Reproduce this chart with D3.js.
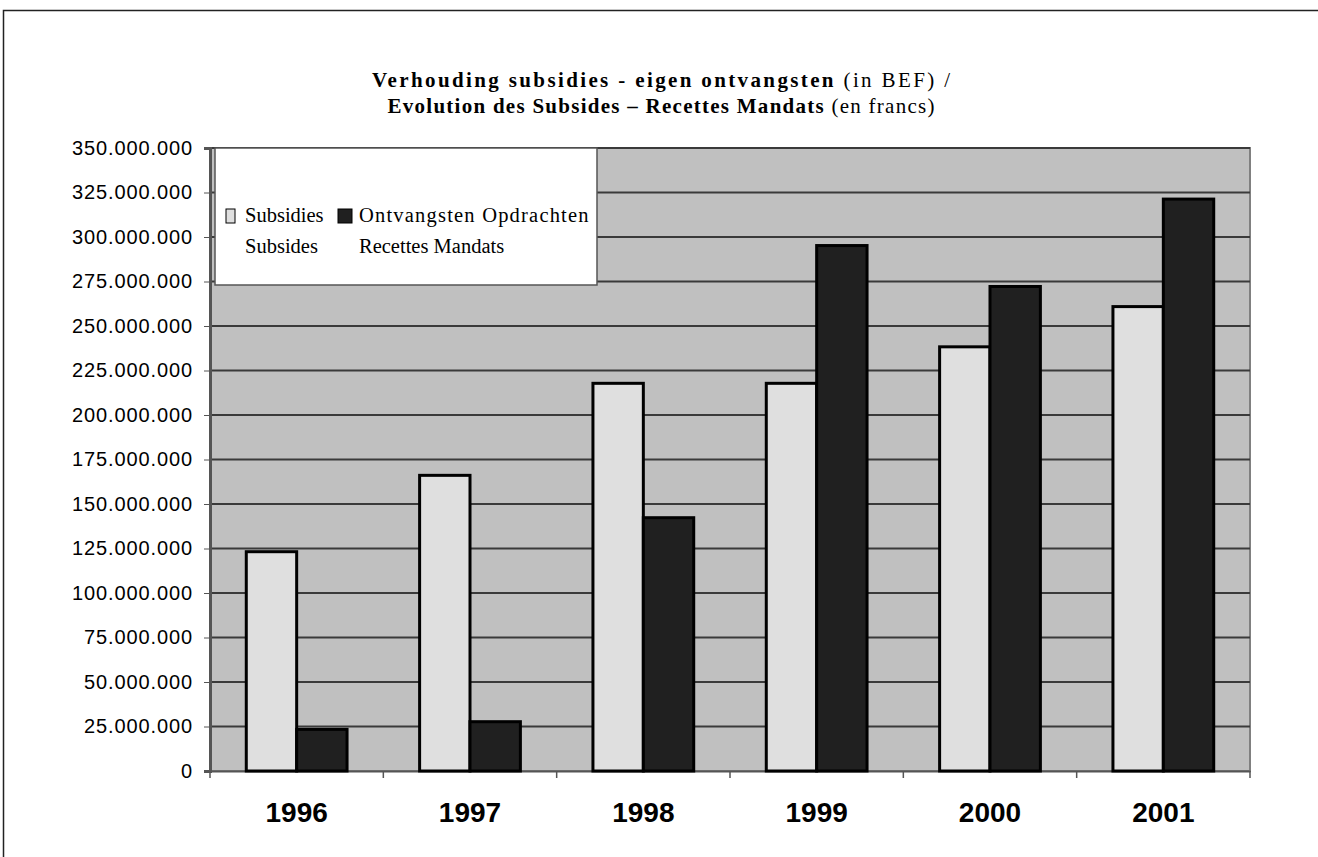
<!DOCTYPE html>
<html>
<head>
<meta charset="utf-8">
<script src="https://cdn.jsdelivr.net/npm/d3@7"></script>
<style>
  body { margin: 0; background: #fff; }
  svg { display: block; }
</style>
</head>
<body>
<svg id="chart"></svg>
<script>
// data
const years = ["1996", "1997", "1998", "1999", "2000", "2001"];
const subsidies = [123200000, 166100000, 217800000, 217800000, 238300000, 260900000];
const mandats = [23400000, 27700000, 142300000, 295200000, 272200000, 321300000];
const yTicks = d3.range(0, 350000001, 25000000);

const W = 1318, H = 857;
const plot = { left: 210, right: 1250, top: 148, bottom: 771 };

const svg = d3.select("#chart").attr("width", W).attr("height", H);

// outer frame (only top and left visible)
svg.append("path")
    .attr("d", `M3.5,${H} V10.5 H${W}`)
    .attr("fill", "none")
    .attr("stroke", "#222")
    .attr("stroke-width", 1.5);

// title
const title = svg.append("g").attr("font-family", "'Liberation Serif', 'Times New Roman', serif")
    .attr("font-size", 21).attr("text-anchor", "middle").attr("fill", "#000");
const t1 = title.append("text").attr("x", 661).attr("y", 87).attr("textLength", 578);
t1.append("tspan").attr("font-weight", "bold").text("Verhouding subsidies - eigen ontvangsten");
t1.append("tspan").text(" (in BEF) /");
const t2 = title.append("text").attr("x", 661).attr("y", 113).attr("textLength", 547);
t2.append("tspan").attr("font-weight", "bold").text("Evolution des Subsides – Recettes Mandats");
t2.append("tspan").text(" (en francs)");

const x = d3.scaleBand().domain(years).range([plot.left, plot.right]);
const x1 = d3.scaleBand().domain(["s", "m"]).range([0, x.bandwidth()]).paddingOuter(0.72).paddingInner(0);
const y = d3.scaleLinear().domain([0, 350000000]).range([plot.bottom, plot.top]);

// plot background
svg.append("rect")
    .attr("x", plot.left).attr("y", plot.top)
    .attr("width", plot.right - plot.left).attr("height", plot.bottom - plot.top)
    .attr("fill", "#c0c0c0")
    .attr("stroke", "#808080").attr("stroke-width", 2);

// gridlines
svg.append("g").selectAll("line")
    .data(yTicks.filter(d => d > 0))
    .join("line")
    .attr("x1", plot.left).attr("x2", plot.right)
    .attr("y1", d => y(d)).attr("y2", d => y(d))
    .attr("stroke", "#3a3a3a").attr("stroke-width", 2);

// y axis
const fmt = d => d3.format(",")(d).replace(/,/g, ".");
const yAxis = svg.append("g")
    .attr("transform", `translate(${plot.left},0)`)
    .call(d3.axisLeft(y).tickValues(yTicks).tickFormat(fmt).tickSize(6).tickPadding(11));
yAxis.select(".domain").attr("stroke", "#555").attr("stroke-width", 3);
yAxis.selectAll(".tick line").attr("stroke", "#555");
yAxis.selectAll("text")
    .attr("font-family", "'Liberation Sans', Arial, sans-serif")
    .attr("font-size", 20).attr("letter-spacing", 0.9).attr("fill", "#000");

// x axis
const xAxis = svg.append("g")
    .attr("transform", `translate(0,${plot.bottom})`)
    .call(d3.axisBottom(x).tickSize(0).tickPadding(31));
xAxis.select(".domain").attr("stroke", "#555").attr("stroke-width", 2);
xAxis.selectAll("text")
    .attr("font-family", "'Liberation Sans', Arial, sans-serif")
    .attr("font-weight", "bold").attr("font-size", 28).attr("fill", "#000");
svg.append("g").selectAll("line")
    .data(years.concat(["end"]))
    .join("line")
    .attr("x1", (d, i) => plot.left + i * x.bandwidth())
    .attr("x2", (d, i) => plot.left + i * x.bandwidth())
    .attr("y1", plot.bottom).attr("y2", plot.bottom + 7)
    .attr("stroke", "#555").attr("stroke-width", 1.5);

// bars
const rows = years.map((yr, i) => ({ year: yr, s: subsidies[i], m: mandats[i] }));
const colors = { s: "#dfdfdf", m: "#202020" };
svg.append("g").selectAll("g")
    .data(rows)
    .join("g")
    .attr("transform", d => `translate(${x(d.year)},0)`)
    .selectAll("rect")
    .data(d => ["s", "m"].map(k => ({ key: k, value: d[k] })))
    .join("rect")
    .attr("x", d => x1(d.key))
    .attr("y", d => y(d.value))
    .attr("width", x1.bandwidth())
    .attr("height", d => y(0) - y(d.value))
    .attr("fill", d => colors[d.key])
    .attr("stroke", "#000").attr("stroke-width", 3);

// legend
const lg = svg.append("g").attr("font-family", "'Liberation Serif', 'Times New Roman', serif")
    .attr("font-size", 20.5).attr("fill", "#000");
lg.append("rect")
    .attr("x", 215).attr("y", 148).attr("width", 382).attr("height", 137)
    .attr("fill", "#fff").attr("stroke", "#555").attr("stroke-width", 1.5);
const legendItems = [
    { key: "s", x: 226, w: 9, tx: 245, l1: "Subsidies", l2: "Subsides", ls: 0 },
    { key: "m", x: 338, w: 14, tx: 359, l1: "Ontvangsten Opdrachten", l2: "Recettes Mandats", ls: 1.2 }
];
legendItems.forEach(it => {
    lg.append("rect")
        .attr("x", it.x).attr("y", 209).attr("width", it.w).attr("height", 14)
        .attr("fill", colors[it.key]).attr("stroke", "#000").attr("stroke-width", 1);
    lg.append("text").attr("x", it.tx).attr("y", 222)
        .attr("letter-spacing", it.ls).text(it.l1);
    lg.append("text").attr("x", it.tx).attr("y", 253).text(it.l2);
});
</script>
</body>
</html>
